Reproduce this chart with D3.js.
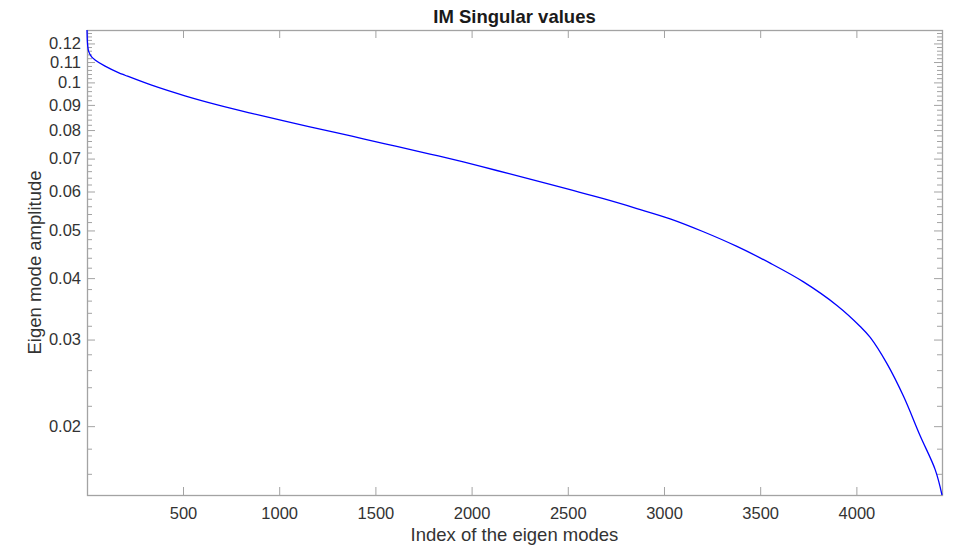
<!DOCTYPE html>
<html>
<head>
<meta charset="utf-8">
<script src="https://cdn.jsdelivr.net/npm/d3@7/dist/d3.min.js"></script>
<style>
  html, body { margin: 0; padding: 0; background: #fff; }
  svg { display: block; font-family: "Liberation Sans", Arial, Helvetica, sans-serif; }
</style>
</head>
<body>
<svg id="chart" width="958" height="551"></svg>
<script>
// Singular values of the IM, sorted in descending order
const modeIndex = [1, 2, 3, 5, 10, 25, 43, 95, 164, 199, 337, 510, 684, 857, 1030,
  1290, 1437, 1611, 1784, 1957, 2131, 2304, 2512, 2685, 2859, 3032, 3205, 3379,
  3552, 3725, 3899, 4020, 4072, 4159, 4245, 4332, 4410, 4445];
const singularValue = [0.1278, 0.1235, 0.1210, 0.1185, 0.1155, 0.1127, 0.1111, 0.1079,
  0.1047, 0.1034, 0.0987, 0.0939, 0.0899, 0.0865, 0.0834, 0.0791, 0.0768, 0.0741,
  0.0715, 0.0689, 0.0662, 0.0636, 0.0605, 0.0580, 0.0554, 0.0528, 0.0497, 0.0464,
  0.0429, 0.0393, 0.0352, 0.0319, 0.0303, 0.0268, 0.0230, 0.0191, 0.0163, 0.01449];

const xTicks = [500, 1000, 1500, 2000, 2500, 3000, 3500, 4000];
const yTicks = [0.02, 0.03, 0.04, 0.05, 0.06, 0.07, 0.08, 0.09, 0.1, 0.11, 0.12];
const yTickLabels = ["0.02", "0.03", "0.04", "0.05", "0.06", "0.07", "0.08", "0.09", "0.1", "0.11", "0.12"];
const yMinorTicks = [0.016, 0.018, 0.022, 0.024, 0.026, 0.028, 0.032, 0.034, 0.036, 0.038,
  0.042, 0.044, 0.046, 0.048, 0.052, 0.054, 0.056, 0.058, 0.062, 0.064, 0.066, 0.068,
  0.072, 0.074, 0.076, 0.078, 0.082, 0.084, 0.086, 0.088, 0.092, 0.094, 0.096, 0.098,
  0.102, 0.104, 0.106, 0.108, 0.112, 0.114, 0.116, 0.118, 0.122, 0.124, 0.126];

const titleText = "IM Singular values";
const xLabelText = "Index of the eigen modes";
const yLabelText = "Eigen mode amplitude";

const W = 958, H = 551;
const margin = { top: 30, right: 16, bottom: 56, left: 87 };
const iw = W - margin.left - margin.right;
const ih = H - margin.top - margin.bottom;

const axisColor = "#a3a3a3";
const textColor = "#333333";
const majorLen = 8, minorLen = 5;

const svg = d3.select("#chart");
const g = svg.append("g").attr("transform", `translate(${margin.left},${margin.top})`);

const x = d3.scaleLinear().domain([modeIndex[0], modeIndex[modeIndex.length - 1]]).range([0, iw]);
const y = d3.scaleLog().domain([d3.min(singularValue), d3.max(singularValue)]).range([ih, 0]);

// Box-style axes with inward ticks on all four sides
function styleAxis(sel) {
  sel.select(".domain").remove();
  sel.selectAll(".tick line").attr("stroke", axisColor).attr("stroke-width", 1);
  sel.selectAll(".tick text").attr("fill", textColor).attr("font-size", "16.5px")
    .attr("font-family", "'Liberation Sans', Arial, Helvetica, sans-serif");
}

// bottom
g.append("g").attr("transform", `translate(0,${ih})`)
  .call(d3.axisBottom(x).tickValues(xTicks).tickFormat(d3.format("d"))
    .tickSizeInner(-majorLen).tickSizeOuter(0).tickPadding(12))
  .call(styleAxis);
// top
g.append("g")
  .call(d3.axisTop(x).tickValues(xTicks).tickFormat("").tickSizeInner(-majorLen).tickSizeOuter(0))
  .call(styleAxis);
// left major
g.append("g")
  .call(d3.axisLeft(y).tickValues(yTicks).tickFormat((d, i) => yTickLabels[i])
    .tickSizeInner(-majorLen).tickSizeOuter(0).tickPadding(6))
  .call(styleAxis);
// left minor
g.append("g")
  .call(d3.axisLeft(y).tickValues(yMinorTicks).tickFormat("").tickSizeInner(-minorLen).tickSizeOuter(0))
  .call(styleAxis);
// right major
g.append("g").attr("transform", `translate(${iw},0)`)
  .call(d3.axisRight(y).tickValues(yTicks).tickFormat("").tickSizeInner(-majorLen).tickSizeOuter(0))
  .call(styleAxis);
// right minor
g.append("g").attr("transform", `translate(${iw},0)`)
  .call(d3.axisRight(y).tickValues(yMinorTicks).tickFormat("").tickSizeInner(-minorLen).tickSizeOuter(0))
  .call(styleAxis);

// frame
g.append("rect").attr("x", 0.5).attr("y", 0.5).attr("width", iw).attr("height", ih)
  .attr("fill", "none").attr("stroke", axisColor).attr("stroke-width", 1.3);

// curve
const pts = modeIndex.map((d, i) => [d, singularValue[i]]);
g.append("path")
  .datum(pts)
  .attr("fill", "none")
  .attr("stroke", "#0000ff")
  .attr("stroke-width", 1.3)
  .attr("d", d3.line().x(d => x(d[0])).y(d => y(d[1])).curve(d3.curveCatmullRom.alpha(0.5)));

// title and axis labels
svg.append("text").attr("x", margin.left + iw / 2).attr("y", 23)
  .attr("text-anchor", "middle").attr("font-size", "18.5px").attr("font-weight", "bold")
  .attr("fill", "#1a1a1a").text(titleText);
svg.append("text").attr("x", margin.left + iw / 2).attr("y", 541)
  .attr("text-anchor", "middle").attr("font-size", "18.5px")
  .attr("fill", textColor).text(xLabelText);
svg.append("text").attr("transform", `translate(41,${margin.top + ih / 2}) rotate(-90)`)
  .attr("text-anchor", "middle").attr("font-size", "18.5px")
  .attr("fill", textColor).text(yLabelText);
</script>
</body>
</html>
